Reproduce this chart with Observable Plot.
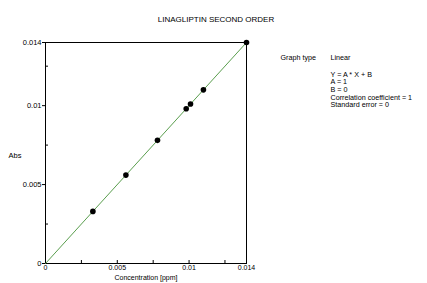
<!DOCTYPE html>
<html><head><meta charset="utf-8">
<script src="https://cdn.jsdelivr.net/npm/d3@7"></script>
<script src="https://cdn.jsdelivr.net/npm/@observablehq/plot@0.6"></script>
<style>body{margin:0;background:#fff}</style>
</head><body><div id="chart"></div>
<script>
const concentration = [0.0033, 0.0056, 0.0078, 0.0098, 0.0101, 0.0110, 0.0140];
const absorbance    = [0.0033, 0.0056, 0.0078, 0.0098, 0.0101, 0.0110, 0.0140];
const fitX = [0, 0.014];
const fitY = [0, 0.014];
const majorTicks = [0, 0.005, 0.01, 0.014];
const minorTicks = [0.0025, 0.0075, 0.0125];
const xInnerTicks = [0.0025, 0.005, 0.0075, 0.01, 0.0125];
const title = "LINAGLIPTIN SECOND ORDER";
const infoLabel = "Graph type";
const infoValue = "Linear";
const infoLines = ["Y = A * X + B", "A = 1", "B = 0", "Correlation coefficient = 1", "Standard error = 0"];

const pts = concentration.map((c, i) => ({x: c, y: absorbance[i]}));
const fit = fitX.map((x, i) => ({x, y: fitY[i]}));
const fmt = d => d === 0 ? "0" : String(+d.toFixed(4));
const font = "Liberation Sans, Arial, sans-serif";

const chart = Plot.plot({
  width: 427, height: 283,
  marginLeft: 45, marginRight: 181, marginTop: 42, marginBottom: 20,
  style: {fontFamily: font, fontSize: "7.5px", background: "#fff", color: "#000"},
  x: {domain: [0, 0.014]},
  y: {domain: [0, 0.014]},
  marks: [
    Plot.axisY(majorTicks, {tickSize: 3, tickPadding: 1, tickFormat: fmt, label: null}),
    Plot.axisY(minorTicks, {tickSize: -3, tickFormat: () => "", label: null}),
    Plot.axisX(majorTicks, {tickSize: 0, tickPadding: 2, tickFormat: fmt, label: null, fontSize: 7}),
    Plot.axisX(xInnerTicks, {tickSize: -3, tickFormat: () => "", label: null}),
    Plot.frame({stroke: "#000", strokeWidth: 1}),
    Plot.line(fit, {x: "x", y: "y", stroke: "#5a9e4e", strokeWidth: 1}),
    Plot.dot(pts, {x: "x", y: "y", r: 2.8, fill: "#000"}),
    Plot.text([title], {frameAnchor: "top", text: d => d, dx: 70, dy: -26, fontSize: 8, fill: "#000"}),
    Plot.text(["Abs"], {frameAnchor: "left", text: d => d, dx: -37, dy: 3, textAnchor: "start", fontSize: 7.5, fill: "#000"}),
    Plot.text(["Concentration [ppm]"], {frameAnchor: "bottom", text: d => d, dy: 16, fontSize: 7, fill: "#000"}),
    Plot.text([infoLabel], {frameAnchor: "top-right", text: d => d, dx: 34, dy: 12, textAnchor: "start", fontSize: 7.2, fill: "#000"}),
    Plot.text([infoValue], {frameAnchor: "top-right", text: d => d, dx: 84, dy: 12, textAnchor: "start", fontSize: 7.2, fill: "#000"}),
    Plot.text([infoLines.join("\n")], {frameAnchor: "top-right", text: d => d, dx: 84, dy: 29, textAnchor: "start", lineAnchor: "top", lineHeight: 1.05, fontSize: 7.2, fill: "#000"})
  ]
});
document.getElementById("chart").appendChild(chart);
</script></body></html>
